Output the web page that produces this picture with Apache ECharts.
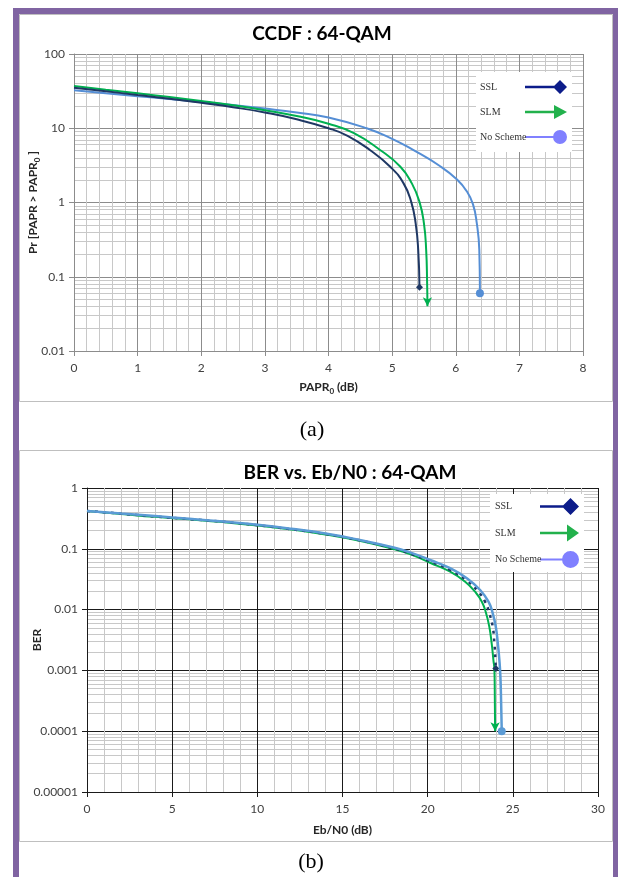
<!DOCTYPE html>
<html style="height: 100%">
<head>
    <meta charset="utf-8">
    <title>CCDF / BER : 64-QAM</title>
</head>
<body style="height: 100%; margin: 0; background: #fff">
<div id="container" style="width: 618px; height: 877px"></div>
<script type="text/javascript" src="https://cdn.jsdelivr.net/npm/echarts@6/dist/echarts.min.js"></script>
<script type="text/javascript">
    var myChart = echarts.init(document.getElementById('container'));

    // (a) CCDF : 64-QAM  -- x = PAPR0 (dB), y = Pr [PAPR > PAPR0] (%)
    var ccdfSslX = [0, 0.5, 1, 1.5, 2, 2.5, 3, 3.5, 4, 4.3, 4.65, 4.97, 5.18, 5.3, 5.37, 5.41, 5.43];
    var ccdfSslY = [35, 31.5, 28, 25, 22, 19.2, 16.3, 13.2, 10, 7.9, 5.1, 3.03, 1.81, 1.02, 0.525, 0.23, 0.072];
    var ccdfSlmX = [0, 0.5, 1, 1.5, 2, 2.5, 3, 3.5, 4, 4.4, 4.81, 5.13, 5.31, 5.43, 5.5, 5.535, 5.55, 5.555];
    var ccdfSlmY = [37, 33, 29.5, 26.3, 23.3, 20.4, 17.5, 14.6, 11.5, 8.6, 5.1, 3.03, 1.81, 1.02, 0.525, 0.23, 0.082, 0.04];
    var ccdfNoneX = [0, 0.5, 1, 1.5, 2, 2.5, 3, 3.5, 4, 4.6, 5, 5.33, 5.75, 6.02, 6.17, 6.27, 6.33, 6.37, 6.38];
    var ccdfNoneY = [32.5, 29.5, 27, 24.8, 22.6, 20.5, 18.4, 16.3, 14, 10, 7.2, 5.1, 3.1, 2.04, 1.43, 0.95, 0.53, 0.23, 0.06];

    // (b) BER vs. Eb/N0 : 64-QAM
    var berSslX = [0, 2, 4, 6, 8, 10, 12, 14, 16, 18, 19, 20.14, 21.32, 22.25, 22.94, 23.37, 23.62, 23.82, 23.92, 23.98, 24.0];
    var berSslY = [0.42, 0.378, 0.34, 0.308, 0.278, 0.245, 0.21, 0.175, 0.138, 0.102, 0.083, 0.0622, 0.0448, 0.0307, 0.0202, 0.0135, 0.0087, 0.0052, 0.00275, 0.00148, 0.00107];
    var berSlmX = [0, 2, 4, 6, 8, 10, 12, 14, 16, 18, 19, 20.14, 21.32, 22.2, 22.78, 23.18, 23.43, 23.62, 23.76, 23.86, 23.92, 23.94, 23.96];
    var berSlmY = [0.42, 0.375, 0.335, 0.305, 0.275, 0.242, 0.207, 0.172, 0.135, 0.099, 0.081, 0.059, 0.042, 0.0288, 0.0197, 0.0135, 0.0087, 0.0052, 0.00275, 0.00148, 0.00102, 0.00042, 0.0001];
    var berNoneX = [0, 2, 4, 6, 8, 10, 12, 14, 16, 18, 19, 20.14, 21.32, 22.3, 23.08, 23.57, 23.82, 24.0, 24.12, 24.21, 24.27, 24.31, 24.35];
    var berNoneY = [0.42, 0.38, 0.345, 0.312, 0.28, 0.248, 0.213, 0.178, 0.14, 0.105, 0.0865, 0.0655, 0.0479, 0.0327, 0.021, 0.0135, 0.0087, 0.0052, 0.00275, 0.00148, 0.00079, 0.00032, 0.0001];

    var ccdfTicks = ['0.01', '0.1', '1', '10', '100'];
    var berTicks = ['0.00001', '0.0001', '0.001', '0.01', '0.1', '1'];
    var seriesNames = ['SSL', 'SLM', 'No Scheme'];

    function pairs(xs, ys, end) {
        var out = [];
        for (var i = 0; i < xs.length; i++) {
            var item = {value: [xs[i], ys[i]]};
            if (i === xs.length - 1) {
                item.symbol = end[0];
                item.symbolSize = end[1];
                item.symbolRotate = end[2] || 0;
            }
            out.push(item);
        }
        return out;
    }

    function curve(name, idx, xs, ys, color, width, end, dash, z) {
        return {
            name: name,
            type: 'line',
            xAxisIndex: idx,
            yAxisIndex: idx,
            symbol: 'none',
            smooth: 0.5,
            lineStyle: {color: color, width: width, type: dash || 'solid'},
            itemStyle: {color: color},
            z: z || 2,
            data: pairs(xs, ys, end)
        };
    }

    function logLabel(ticks, minExp) {
        return function (v) {
            return ticks[Math.round(Math.log10(v)) - minExp];
        };
    }

    var sans = 'Lato';
    var serif = 'Liberation Serif';

    // legend icons: line + marker, drawn as one path
    var iconA = {
        'SSL': 'path://M0,5.8L29,5.8L29,8.2L0,8.2Z M35,0L42,7L35,14L28,7Z',
        'SLM': 'path://M0,5.8L30,5.8L30,8.2L0,8.2Z M29,0L42,7L29,14Z',
        'No Scheme': 'path://M0,6L30,6L30,8L0,8Z M35,0A7,7,0,1,1,35,14A7,7,0,1,1,35,0Z'
    };
    var iconB = {
        'SSL': 'path://M0,7.3L24,7.3L24,9.7L0,9.7Z M30.5,0L39,8.5L30.5,17L22,8.5Z',
        'SLM': 'path://M0,7.3L28,7.3L28,9.7L0,9.7Z M27,0L39,8.5L27,17Z',
        'No Scheme': 'path://M0,7.5L24,7.5L24,9.5L0,9.5Z M30.5,0A8.5,8.5,0,1,1,30.5,17A8.5,8.5,0,1,1,30.5,0Z'
    };
    var legendColors = {'SSL': '#0c1c8a', 'SLM': '#22b14c', 'No Scheme': '#8080ff'};

    function legendData(icons) {
        return seriesNames.map(function (n) {
            return {name: n, icon: icons[n], itemStyle: {color: legendColors[n], borderWidth: 0}};
        });
    }

    var nameRich = {
        a: {fontFamily: sans, fontWeight: 'bold', fontSize: 12, color: '#262626', lineHeight: 16},
        s: {fontFamily: sans, fontWeight: 'bold', fontSize: 8, color: '#262626', lineHeight: 16, verticalAlign: 'bottom', padding: [6, 0, 0, 0]}
    };
    var legendRich = {
        t: {fontFamily: serif, fontSize: 10, color: '#333', width: 40, align: 'left'}
    };

    function valueAxis(grid, min, max, interval, major, minor, axisColor, name, nameGap) {
        return {
            gridIndex: grid, type: 'value', min: min, max: max, interval: interval,
            name: name, nameLocation: 'middle', nameGap: nameGap, nameMoveOverlap: false,
            nameTextStyle: {rich: nameRich},
            axisLine: {show: true, lineStyle: {color: axisColor, width: 1}},
            axisTick: {show: true, inside: false, length: 5, lineStyle: {color: axisColor}},
            axisLabel: {fontFamily: sans, fontSize: 12, color: '#404040', margin: 11},
            minorTick: {show: false, splitNumber: 5},
            splitLine: {show: true, lineStyle: {color: major, width: 1}},
            minorSplitLine: {show: true, lineStyle: {color: minor, width: 1}}
        };
    }

    function logAxis(grid, min, max, ticks, minExp, major, minor, axisColor, name, nameGap) {
        return {
            gridIndex: grid, type: 'log', logBase: 10, min: min, max: max,
            name: name, nameLocation: 'middle', nameGap: nameGap, nameMoveOverlap: false,
            nameTextStyle: {rich: nameRich},
            axisLine: {show: true, lineStyle: {color: axisColor, width: 1}},
            axisTick: {show: true, inside: false, length: 5, lineStyle: {color: axisColor}},
            axisLabel: {fontFamily: sans, fontSize: 12, color: '#404040', margin: 9, formatter: logLabel(ticks, minExp)},
            minorTick: {show: false, splitNumber: 9},
            splitLine: {show: true, lineStyle: {color: major, width: 1}},
            minorSplitLine: {show: true, lineStyle: {color: minor, width: 1}}
        };
    }

    var option = {
        animation: false,
        backgroundColor: '#fff',
        title: [
            {text: 'CCDF : 64-QAM', left: 322, top: 24, textAlign: 'center', padding: 0,
                textStyle: {fontFamily: sans, fontWeight: 'bold', fontSize: 19, color: '#000'}},
            {text: 'BER vs. Eb/N0 : 64-QAM', left: 350, top: 463, textAlign: 'center', padding: 0,
                textStyle: {fontFamily: sans, fontWeight: 'bold', fontSize: 19, color: '#000'}}
        ],
        legend: [
            {
                left: 476, top: 72, orient: 'vertical', align: 'right', selectedMode: false,
                backgroundColor: '#fff', padding: [8, 5, 8, 4], itemGap: 11,
                itemWidth: 42, itemHeight: 14,
                formatter: '{t|{name}}',
                textStyle: {rich: legendRich},
                data: legendData(iconA)
            },
            {
                left: 490, top: 494, orient: 'vertical', align: 'right', selectedMode: false,
                backgroundColor: '#fff', padding: [4, 5, 4, 5], itemGap: 9.5,
                itemWidth: 39, itemHeight: 17,
                formatter: '{t|{name}}',
                textStyle: {rich: legendRich},
                data: legendData(iconB)
            }
        ],
        grid: [
            {left: 74, top: 54, width: 509, height: 297, outerBoundsMode: 'none'},
            {left: 87, top: 488, width: 511, height: 304, outerBoundsMode: 'none'}
        ],
        xAxis: [
            valueAxis(0, 0, 8, 1, '#8c8c8c', '#c8c8c8', '#8c8c8c', '{a|PAPR}{s|0}{a| (dB)}', 28),
            valueAxis(1, 0, 30, 5, '#1a1a1a', '#c8c8c8', '#1a1a1a', '{a|Eb/N0 (dB)}', 30)
        ],
        yAxis: [
            logAxis(0, 0.01, 100, ccdfTicks, -2, '#8c8c8c', '#c8c8c8', '#8c8c8c', '{a|Pr [PAPR > PAPR}{s|0}{a| ]}', 33),
            logAxis(1, 0.00001, 1, berTicks, -5, '#1a1a1a', '#c8c8c8', '#1a1a1a', '{a|BER}', 42)
        ],
        series: [
            curve('No Scheme', 0, ccdfNoneX, ccdfNoneY, '#558ed5', 2, ['circle', 8]),
            curve('SLM', 0, ccdfSlmX, ccdfSlmY, '#00b050', 2, ['arrow', [7, 9], 180]),
            curve('SSL', 0, ccdfSslX, ccdfSslY, '#1f3864', 2, ['diamond', 7]),
            curve('SLM', 1, berSlmX, berSlmY, '#00b050', 2, ['arrow', [7, 9], 180], null, 2),
            curve('SSL', 1, berSslX, berSslY, '#1f3864', 2.5, ['diamond', 7], [3, 5], 3),
            curve('No Scheme', 1, berNoneX, berNoneY, '#5b9bd5', 2.5, ['circle', 8], null, 4)
        ],
        graphic: [
            {type: 'rect', shape: {x: 19.5, y: 14.5, width: 593, height: 387}, style: {fill: 'none', stroke: '#bfbfbf', lineWidth: 1}},
            {type: 'rect', shape: {x: 19.5, y: 450.5, width: 593, height: 391}, style: {fill: 'none', stroke: '#bfbfbf', lineWidth: 1}},
            {type: 'text', x: 312, y: 430, style: {text: '(a)', fontFamily: serif, fontSize: 22, fill: '#000', align: 'center', verticalAlign: 'middle'}},
            {type: 'text', x: 311, y: 862, style: {text: '(b)', fontFamily: serif, fontSize: 22, fill: '#000', align: 'center', verticalAlign: 'middle'}},
            {type: 'rect', z: 10, shape: {x: 13, y: 8, width: 6, height: 869}, style: {fill: '#8064a2'}},
            {type: 'rect', z: 10, shape: {x: 13, y: 8, width: 605, height: 6}, style: {fill: '#8064a2'}},
            {type: 'rect', z: 10, shape: {x: 613, y: 8, width: 5, height: 869}, style: {fill: '#8064a2'}}
        ]
    };

    myChart.setOption(option);
</script>
</body>
</html>
